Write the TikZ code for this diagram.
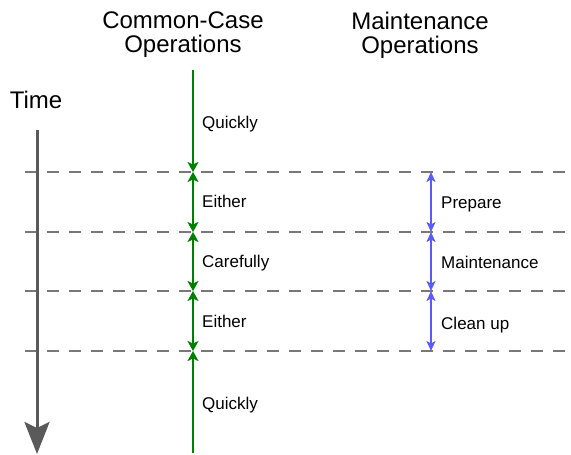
\documentclass[tikz,border=0pt]{standalone}
\usepackage{fontspec}
\setmainfont{Liberation Sans}
\usetikzlibrary{arrows.meta}
\definecolor{ggreen}{RGB}{0,128,0}
\definecolor{gblue}{RGB}{90,90,255}
\definecolor{dgray}{RGB}{90,90,90}
\definecolor{lgray}{RGB}{120,120,120}
\tikzset{
  header/.style={font=\fontsize{24}{24}\selectfont, align=center, inner sep=0pt},
  lbl/.style={font=\fontsize{17}{20}\selectfont, inner sep=0pt, anchor=base west},
  sep/.style={lgray, line width=1.3pt, dash pattern=on 12pt off 10pt},
  gseg/.style={ggreen, line width=2pt},
  bseg/.style={gblue, line width=1.5pt},
  gtip/.tip={Stealth[length=10pt,width=11pt,inset=2.5pt]},
  btip/.tip={Stealth[length=10pt,width=9pt,inset=2.5pt]},
  timeline/.style={dgray, line width=3pt, -{Stealth[length=32pt,width=25pt,inset=6pt]}}
}
\begin{document}
\begin{tikzpicture}[x=1pt,y=-1pt]
\useasboundingbox (0,0) rectangle (571,455);
% headers
\node[header] (hc) at (183,35) {Common-Case\\Operations};
\node[header] (hm) at (420,35) {Maintenance\\Operations};
\node[font=\fontsize{24}{24}\selectfont, inner sep=0pt, anchor=base] (time) at (36,108) {Time};
% separator endpoints
\foreach \i/\y in {1/172,2/232,3/291,4/351}{
  \coordinate (sl\i) at (25,\y);
  \coordinate (sr\i) at (571,\y);
  \coordinate (g\i) at (193,\y);
  \coordinate (b\i) at (431,\y);
}
\coordinate (gtop) at (193,70);
\coordinate (gbot) at (193,453);
\coordinate (ttop) at (37,130);
\coordinate (tbot) at (37,454);
% dashed separators
\foreach \i in {1,2,3,4}{ \draw[sep] (sl\i) -- (sr\i); }
% time arrow
\draw[timeline] (ttop) -- (tbot);
% green common-case line
\draw[gseg, -gtip] (gtop) -- (g1);
\draw[gseg, gtip-gtip] (g1) -- (g2);
\draw[gseg, gtip-gtip] (g2) -- (g3);
\draw[gseg, gtip-gtip] (g3) -- (g4);
\draw[gseg, gtip-] (g4) -- (gbot);
% blue maintenance line
\draw[bseg, btip-btip] (b1) -- (b2);
\draw[bseg, btip-btip] (b2) -- (b3);
\draw[bseg, btip-btip] (b3) -- (b4);
% labels
\node[lbl] (q1) at (202,128) {Quickly};
\node[lbl] (e1) at (202,207) {Either};
\node[lbl] (c1) at (202,267) {Carefully};
\node[lbl] (e2) at (202,327) {Either};
\node[lbl] (q2) at (202,409) {Quickly};
\node[lbl] (p1) at (441,208) {Prepare};
\node[lbl] (m1) at (441,268) {Maintenance};
\node[lbl] (cu) at (441,329) {Clean up};
\end{tikzpicture}
\end{document}
